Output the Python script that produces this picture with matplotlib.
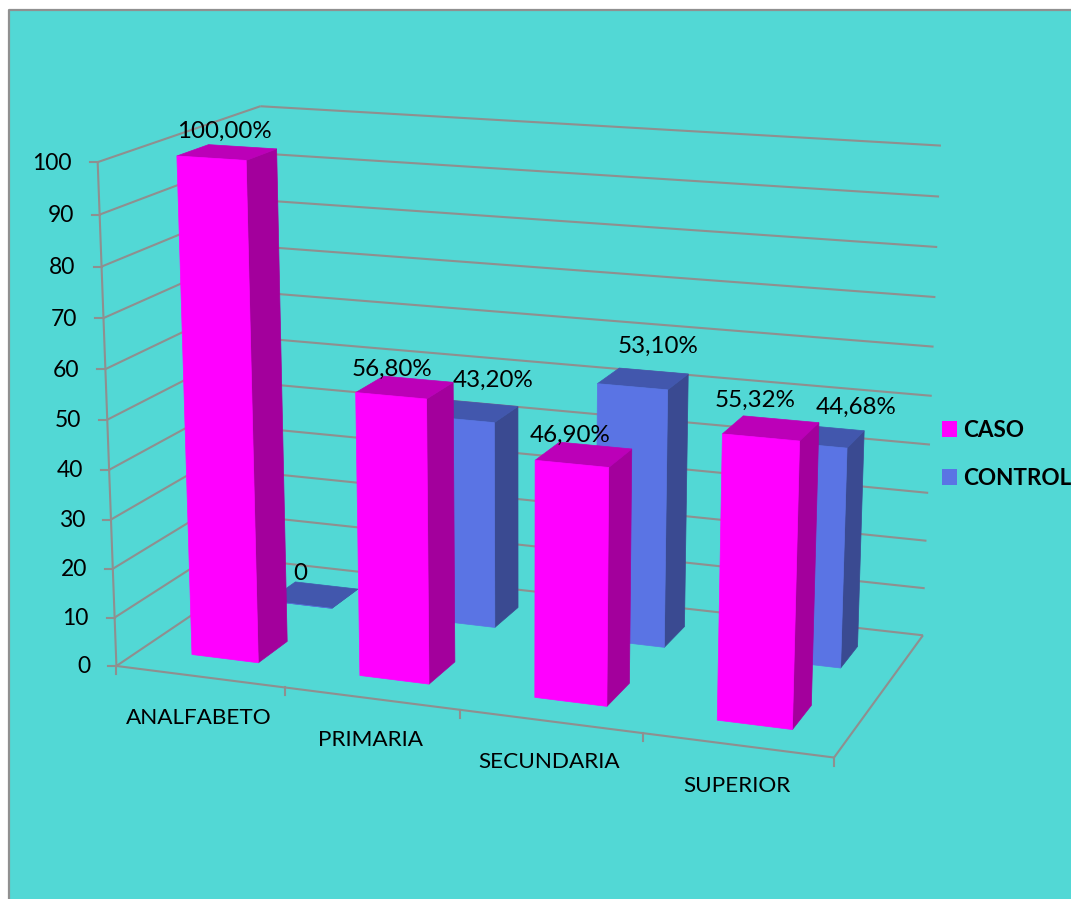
import numpy as np
import matplotlib
matplotlib.use("Agg")
import matplotlib.pyplot as plt
from matplotlib.patches import Patch, Rectangle

categories = ["ANALFABETO", "PRIMARIA", "SECUNDARIA", "SUPERIOR"]
caso = [100.0, 56.80, 46.90, 55.32]
control = [0.0, 43.20, 53.10, 44.68]
value_ticks = list(range(0, 101, 10))

TEAL = "#52D8D5"
GRID = "#8F8F8F"
CASO_FACES = {"front": "#FF00FF", "top": "#BC00B8", "side": "#A3009C"}
CONTROL_FACES = {"front": "#5A74E4", "top": "#4257AD", "side": "#3A4A91"}

# Camera calibration: box corners (category, depth, value) and where they land.
box_world = [(0, 0, 0), (0, 0, 100), (0, 1, 100), (0, 1, 0), (4, 1, 100), (4, 1, 0), (4, 0, 0),
             (1, 0, 0), (2, 0, 0), (3, 0, 0)]
box_view = [(117, 665), (98, 162), (260, 106), (271, 562), (941, 146), (923, 635), (835, 755),
            (284, 687), (460, 712), (642, 735)]


def fit_camera(world, view):
    rows, rhs = [], []
    for (x, y, z), (u, v) in zip(world, view):
        rows.append([x, y, z, 1, 0, 0, 0, 0, -u * x, -u * y, -u * z])
        rhs.append(u)
        rows.append([0, 0, 0, 0, x, y, z, 1, -v * x, -v * y, -v * z])
        rhs.append(v)
    sol = np.linalg.lstsq(np.array(rows, float), np.array(rhs, float), rcond=None)[0]
    return np.append(sol, 1.0).reshape(3, 4)


CAMERA = fit_camera(box_world, box_view)


def project(x, y, z):
    h = CAMERA @ np.array([x, y, z, 1.0])
    return h[0] / h[2], h[1] / h[2]


plt.rcParams["font.family"] = ["Lato", "DejaVu Sans"]
fig = plt.figure(figsize=(10.71, 8.99), dpi=100, facecolor="white")
ax = fig.add_axes([0, 0, 1, 1])
ax.set_xlim(0, 1071)
ax.set_ylim(899, 0)
ax.axis("off")

# Chart area with its grey edge on the top and left only.
ax.add_patch(Rectangle((8.5, 9.5), 1062.5, 889.5, facecolor=TEAL, edgecolor="none", zorder=0))
ax.plot([8.5, 8.5, 1071], [899, 9.5, 9.5], color="#909090", lw=1.6, zorder=1)


def seg(a, b, lw=1.5):
    pa, pb = project(*a), project(*b)
    ax.plot([pa[0], pb[0]], [pa[1], pb[1]], color=GRID, lw=lw, solid_capstyle="butt", zorder=2)


# Walls, floor and ticks.
for v in value_ticks:
    seg((0, 0, v), (0, 1, v))
    seg((0, 1, v), (4, 1, v))
    px, py = project(0, 0, v)
    ax.plot([px - 8, px], [py, py], color=GRID, lw=1.5, zorder=2)
    ax.text(px - 26, py + 1, str(v), ha="right", va="center", fontsize=16.5, color="black", zorder=6)
seg((0, 0, 0), (0, 0, 100))
seg((0, 0, 0), (4, 0, 0))
seg((4, 0, 0), (4, 1, 0))
for i in range(len(categories) + 1):
    px, py = project(i, 0, 0)
    ax.plot([px, px], [py, py + 8], color=GRID, lw=1.5, zorder=2)

for i, name in enumerate(categories):
    px, py = project(i + 0.5, 0, 0)
    ax.text(px - 1, py + 41, name, ha="center", va="center", fontsize=16.2, color="black", zorder=6)

BAR_X = (0.302, 0.702)
CASO_DEPTH = (0.155, 0.345)
CONTROL_DEPTH = (0.655, 0.845)


def draw_bar(i, value, depth, faces, zorder):
    x0, x1 = i + BAR_X[0], i + BAR_X[1]
    y0, y1 = depth
    quads = {
        "side": [(x1, y0, 0), (x1, y1, 0), (x1, y1, value), (x1, y0, value)],
        "top": [(x0, y0, value), (x1, y0, value), (x1, y1, value), (x0, y1, value)],
        "front": [(x0, y0, 0), (x1, y0, 0), (x1, y0, value), (x0, y0, value)],
    }
    for face, corners in quads.items():
        pts = [project(*c) for c in corners]
        ax.fill(*zip(*pts), facecolor=faces[face], edgecolor=faces[face], lw=0.5, zorder=zorder)


for i, v in enumerate(control):
    draw_bar(i, v, CONTROL_DEPTH, CONTROL_FACES, 3 + i * 0.1)
for i, v in enumerate(caso):
    draw_bar(i, v, CASO_DEPTH, CASO_FACES, 4 + i * 0.1)


def pct(v):
    return f"{v:.2f}".replace(".", ",") + "%" if v else "0"


# Hand-placed label nudges, in pixels from the centre of each bar's top.
caso_nudge = [(-2, -21), (-12, -18), (-13, -19), (-16, -28)]
control_nudge = [(-13, -21), (21, -31), (15, -32), (37, -29)]
for series, depth, nudges in ((caso, CASO_DEPTH, caso_nudge), (control, CONTROL_DEPTH, control_nudge)):
    for i, v in enumerate(series):
        px, py = project(i + 0.5, sum(depth) / 2, v)
        ax.text(px + nudges[i][0], py + nudges[i][1], pct(v), ha="center", va="center",
                fontsize=17.4, color="black", zorder=7)

handles = [Patch(facecolor=CASO_FACES["front"], edgecolor="none", label="CASO"),
           Patch(facecolor=CONTROL_FACES["front"], edgecolor="none", label="CONTROL")]
leg = ax.legend(handles=handles, loc="upper left", bbox_to_anchor=(942 / 1071, 1 - 420 / 899),
                frameon=False, borderpad=0, borderaxespad=0, handlelength=0.667, handleheight=0.667,
                handletextpad=0.27, labelspacing=1.2, prop={"weight": "bold", "size": 16.2})

fig.savefig("out.png", dpi=100)
